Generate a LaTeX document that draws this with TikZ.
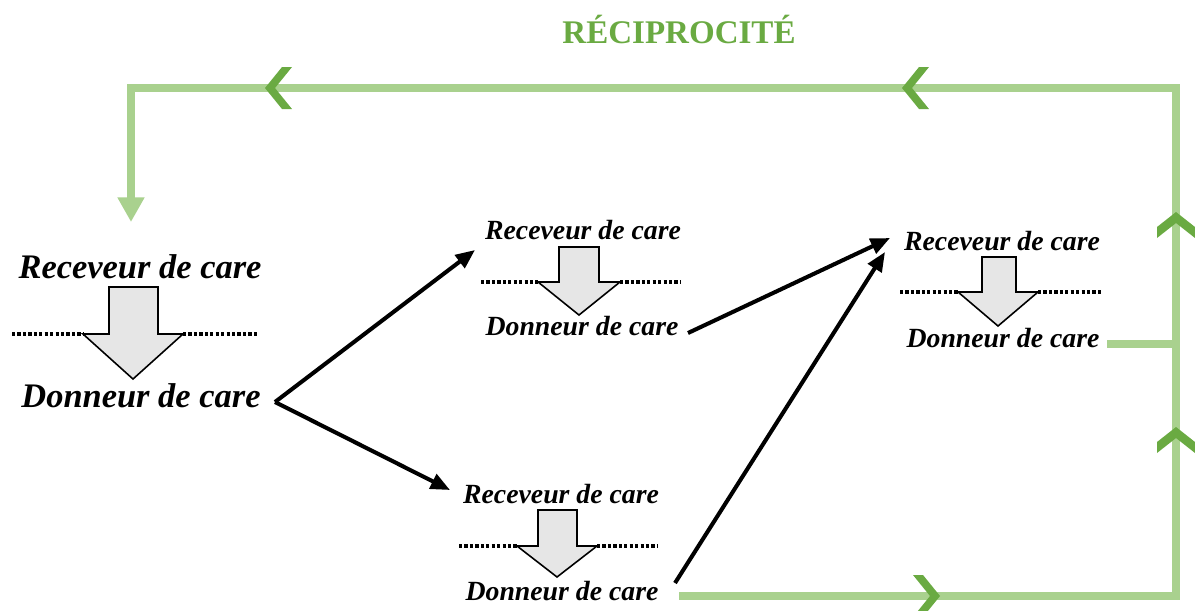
\documentclass[tikz,border=0pt]{standalone}
\usepackage{fontspec}
\setmainfont{Liberation Serif}
\usetikzlibrary{arrows.meta}
\definecolor{lgreen}{RGB}{169,209,142}
\definecolor{dgreen}{RGB}{106,170,66}
\definecolor{blockgray}{RGB}{230,230,230}
\tikzset{
  lbl/.style={anchor=base, inner sep=0pt, font=\bfseries\itshape\fontsize{15.8}{18}\selectfont},
  biglbl/.style={anchor=base, inner sep=0pt, font=\bfseries\itshape\fontsize{19.6}{22}\selectfont},
  sep/.style={line width=1.8pt, dash pattern=on 1.8pt off 1.3pt},
  blockarrow/.style={draw=black, line width=0.9pt, fill=blockgray, line join=miter},
  flow/.style={line width=2.3pt, -{Triangle[length=11pt,width=9pt]}},
  greenline/.style={draw=lgreen, line width=4.6pt, line join=miter},
  chev/.style={fill=dgreen},
}
\begin{document}
\begin{tikzpicture}[x=0.02cm, y=-0.02cm]
\useasboundingbox (0,0) rectangle (1195,610);

% title
\node[anchor=base, inner sep=0pt, text=dgreen, font=\bfseries\fontsize{18.8}{21}\selectfont] (title) at (679,43) {RÉCIPROCITÉ};

% group 1
\node[biglbl] (r1) at (140,278) {Receveur de care};
\node[biglbl] (d1) at (141,407) {Donneur de care};
\draw[sep] (12,334) -- (83,334);
\draw[sep] (183,334) -- (258,334);
\draw[blockarrow] (109,287) -- (158,287) -- (158,334) -- (183,334) -- (133,379) -- (83,334) -- (109,334) -- cycle;

% group 2
\node[lbl] (r2) at (583,239) {Receveur de care};
\node[lbl] (d2) at (582,335) {Donneur de care};
\draw[sep] (481,282) -- (538,282);
\draw[sep] (620,282) -- (680,282);
\draw[blockarrow] (559,247) -- (599,247) -- (599,282) -- (620,282) -- (579,315) -- (538,282) -- (559,282) -- cycle;

% group 3
\node[lbl] (r3) at (1002,250) {Receveur de care};
\node[lbl] (d3) at (1003,347) {Donneur de care};
\draw[sep] (900,292) -- (958,292);
\draw[sep] (1038,292) -- (1102,292);
\draw[blockarrow] (982,257) -- (1016,257) -- (1016,292) -- (1038,292) -- (998,326) -- (958,292) -- (982,292) -- cycle;

% group 4
\node[lbl] (r4) at (561,503) {Receveur de care};
\node[lbl] (d4) at (562,600) {Donneur de care};
\draw[sep] (459,546) -- (517,546);
\draw[sep] (597,546) -- (658,546);
\draw[blockarrow] (538,510) -- (577,510) -- (577,546) -- (597,546) -- (557,577) -- (517,546) -- (538,546) -- cycle;

% connector end points
\coordinate (j1) at (275,402);
\coordinate (t2) at (475,250);
\coordinate (t4) at (450,490);
\coordinate (s2) at (688,333);
\coordinate (t3a) at (890,238);
\coordinate (s4) at (675,583);
\coordinate (t3b) at (885,252);

\draw[flow] (j1) -- (t2);
\draw[flow] (j1) -- (t4);
\draw[flow] (s2) -- (t3a);
\draw[flow] (s4) -- (t3b);

% green reciprocity loop
\coordinate (g0) at (679,596);
\coordinate (gbr) at (1176,596);
\coordinate (gtr) at (1176,88);
\coordinate (gtl) at (131,88);
\coordinate (gend) at (131,222);
\coordinate (g3a) at (1107,344);
\coordinate (g3b) at (1176,344);
\draw[greenline, -{Triangle[length=14pt,width=14.5pt]}] (g0) -- (gbr) -- (gtr) -- (gtl) -- (gend);
\draw[greenline] (g3a) -- (g3b);

% chevrons
\fill[chev, shift={(265,88)}] (0,0) -- (17,-21) -- (27,-21) -- (10,0) -- (27,21) -- (17,21) -- cycle;
\fill[chev, shift={(902,88)}] (0,0) -- (17,-21) -- (27,-21) -- (10,0) -- (27,21) -- (17,21) -- cycle;
\fill[chev, shift={(1176,212)}, rotate=-90] (0,0) -- (15,-19) -- (26,-19) -- (11,0) -- (26,19) -- (15,19) -- cycle;
\fill[chev, shift={(1176,427)}, rotate=-90] (0,0) -- (15,-19) -- (26,-19) -- (11,0) -- (26,19) -- (15,19) -- cycle;
\fill[chev, shift={(940,596)}, rotate=180] (0,0) -- (17,-21) -- (27,-21) -- (10,0) -- (27,21) -- (17,21) -- cycle;
\end{tikzpicture}
\end{document}
